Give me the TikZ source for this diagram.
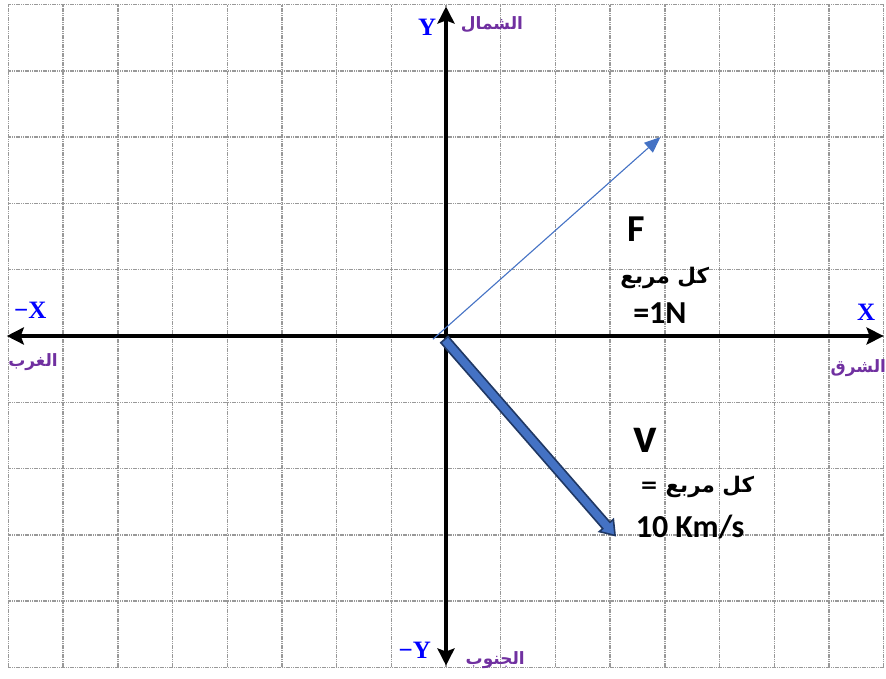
\documentclass[tikz,border=0pt]{standalone}
\usepackage{fontspec}
\usetikzlibrary{calc,arrows.meta,shapes.arrows}
\TeXXeTstate=1
\newfontfamily\arabicfont[Script=Arabic]{DejaVu Sans}
\newfontfamily\latinfont{Carlito}
\newfontfamily\axisfont{Liberation Serif}
\definecolor{axisblue}{HTML}{0000FF}
\definecolor{dirpurple}{HTML}{7030A0}
\definecolor{vecblue}{HTML}{4472C4}
\definecolor{vecedge}{HTML}{203864}

\begin{document}
\begin{tikzpicture}[x=54.7pt,y=66.3pt]

\useasboundingbox (-8.154,-5.173) rectangle (8.044,5.068);

\tikzstyle{gridline}=[gray!80,line width=1.4pt,dash pattern=on 1.2pt off 0.6pt]
\tikzstyle{axis}=[line width=4.5pt,black,>={Stealth[length=17pt,width=17pt,inset=3pt]},<->]
\tikzstyle{axislabel}=[outer sep=0pt,inner sep=0pt,axisblue,font=\axisfont\bfseries\fontsize{25}{25}\selectfont]
\tikzstyle{dirlabel}=[outer sep=0pt,inner sep=0pt,dirpurple,font=\arabicfont\bfseries\fontsize{17}{17}\selectfont]
\tikzstyle{vectext}=[outer sep=0pt,inner sep=0pt,black,font=\latinfont\bfseries\fontsize{32}{32}\selectfont]
\tikzstyle{scaletext}=[outer sep=0pt,inner sep=0pt,black,font=\arabicfont\bfseries\fontsize{21.5}{21.5}\selectfont]

% grid
\foreach \x in {-8,...,8} \draw [gridline] (\x,-5) -- (\x,5);
\foreach \y in {-5,...,5} \draw [gridline] (-8,\y) -- (8,\y);

% axes
\coordinate (west) at (-8.03,0);
\coordinate (east) at (8.0,0);
\coordinate (south) at (0,-4.97);
\coordinate (north) at (0,4.97);

\draw [axis] (west) -- (east);
\draw [axis] (south) -- (north);

\node[axislabel] (ylab) at (-0.347,4.66) {Y};
\node[dirlabel] (northlab) at (0.84,4.69) {\beginR الشمال\endR};
\node[axislabel] (mxlab) at (-7.6,0.39) {−X};
\node[dirlabel] (westlab) at (-7.55,-0.39) {\beginR الغرب\endR};
\node[axislabel] (xlab) at (7.68,0.36) {X};
\node[dirlabel,anchor=east] (eastlab) at (8.044,-0.48) {\beginR الشرق\endR};
\node[axislabel] (mylab) at (-0.57,-4.74) {−Y};
\node[dirlabel] (southlab) at (0.9,-4.89) {\beginR الجنوب\endR};

% force vector
\coordinate (Fs) at (-0.24,-0.05);
\coordinate (Ft) at (3.92,3);
\draw [vecblue,line width=1.1pt,-{Triangle[length=16pt,width=13pt]}] (Fs) -- (Ft);

\node[vectext,font=\latinfont\bfseries\fontsize{38}{38}\selectfont] (Flab) at (3.47,1.61) {F};
\node[scaletext] (Fscale) at (4.0,0.87) {\beginR كل مربع\endR};
\node[vectext] (Funit) at (3.91,0.35) {=1N};

% velocity vector
\coordinate (vs) at (-0.07,-0.015);
\coordinate (vt) at (3.05,-2.97);
\path let \p1=($(vt)-(vs)$), \n1={atan2(\y1,\x1)}, \n2={veclen(\x1,\y1)} in
  node[single arrow,draw=vecedge,fill=vecblue,line width=1.6pt,inner sep=4pt,
       single arrow head extend=4.5pt,single arrow tip angle=70,
       minimum height=\n2,rotate=\n1] (vel) at ($(vs)!0.5!(vt)$) {};

\node[vectext,font=\latinfont\bfseries\fontsize{50}{50}\selectfont] (vlab) at (3.64,-1.58) {v};
\node[scaletext] (vscale) at (4.59,-2.28) {\beginR كل مربع  =\endR};
\node[vectext,anchor=west] (vunit) at (3.47,-2.88) {10 Km/s};

\end{tikzpicture}
\end{document}
